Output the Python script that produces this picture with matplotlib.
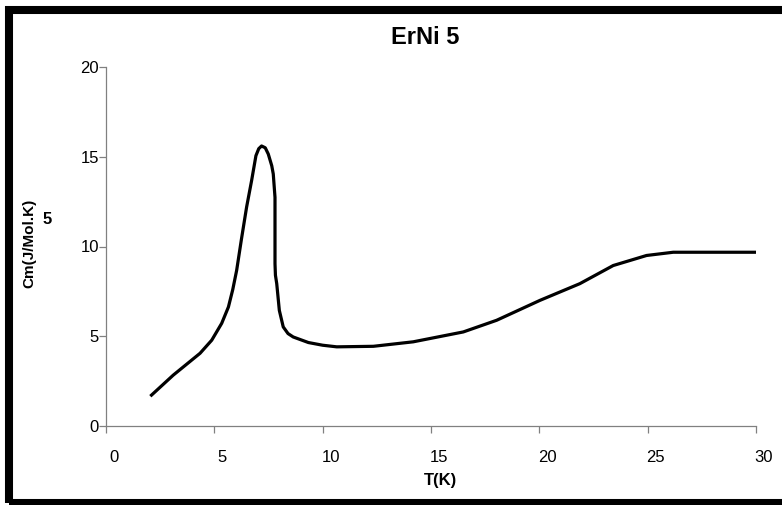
import matplotlib
matplotlib.use("Agg")
import matplotlib.pyplot as plt
import matplotlib.transforms as mtransforms
from matplotlib.patches import Rectangle

# Specific heat of ErNi5
temp_k = [2.1, 3.1, 4.34, 4.88, 5.34, 5.65, 5.85, 6.03, 6.25, 6.49, 6.72, 6.92,
          7.05, 7.18, 7.35, 7.49, 7.65, 7.72, 7.8, 7.8, 7.82, 7.88, 8.0, 8.18,
          8.4, 8.64, 9.34, 10.0, 10.65, 12.34, 14.18, 16.49, 18.03, 20.03,
          21.87, 23.41, 24.95, 26.18, 30.0]
cm_jmolk = [1.72, 2.83, 4.05, 4.78, 5.72, 6.63, 7.6, 8.67, 10.4, 12.2, 13.67,
            15.06, 15.45, 15.6, 15.5, 15.15, 14.5, 14.04, 12.74, 9.04, 8.4, 7.93,
            6.44, 5.52, 5.15, 4.96, 4.65, 4.5, 4.41, 4.44, 4.69, 5.24, 5.89, 7.0,
            7.93, 8.94, 9.5, 9.68, 9.68]

x_ticks = [0, 5, 10, 15, 20, 25, 30]
y_ticks = [0, 5, 10, 15, 20]

plt.rcParams['font.family'] = ['Liberation Sans', 'DejaVu Sans']

W, H = 782, 505
fig = plt.figure(figsize=(W / 100, H / 100), dpi=100)
ax = fig.add_axes([106 / W, 1 - 426 / H, 650 / W, 359 / H])

ax.plot(temp_k, cm_jmolk, color='black', lw=2.3, solid_joinstyle='round')

ax.set_xlim(0, 30)
ax.set_ylim(0, 20)
ax.set_xticks(x_ticks)
ax.set_yticks(y_ticks)
for s in ['top', 'right']:
    ax.spines[s].set_visible(False)
for s in ['left', 'bottom']:
    ax.spines[s].set_color('#808080')
    ax.spines[s].set_linewidth(0.9)
ax.tick_params(axis='both', colors='#808080', labelcolor='black', labelsize=12,
               length=5, width=0.9)
ax.tick_params(axis='x', pad=12)
ax.tick_params(axis='y', pad=0)

# Excel style: x tick labels sit a bit right of their ticks
shift = mtransforms.ScaledTranslation(8 / 100, 0, fig.dpi_scale_trans)
for lbl in ax.get_xticklabels():
    lbl.set_transform(lbl.get_transform() + shift)

fig.text(425 / W, 1 - 37 / H, 'ErNi 5', ha='center', va='center',
         fontsize=17, fontweight='bold')
fig.text(441 / W, 1 - 480 / H, 'T(K)', ha='center', va='center',
         fontsize=12, fontweight='bold')
fig.text(29 / W, 1 - 243 / H, 'Cm(J/Mol.K)', ha='center', va='center',
         rotation=90, fontsize=11, fontweight='bold')
fig.text(47 / W, 1 - 220 / H, '5', ha='center', va='center',
         fontsize=12, fontweight='bold')

# thick black frame round the chart (right side falls off the image)
fig.add_artist(Rectangle((9 / W, 2 / H), 1.1, 1 - 12 / H, transform=fig.transFigure,
                         fill=False, edgecolor='black', lw=5.8, clip_on=False))

plt.savefig('out.png', dpi=100)
